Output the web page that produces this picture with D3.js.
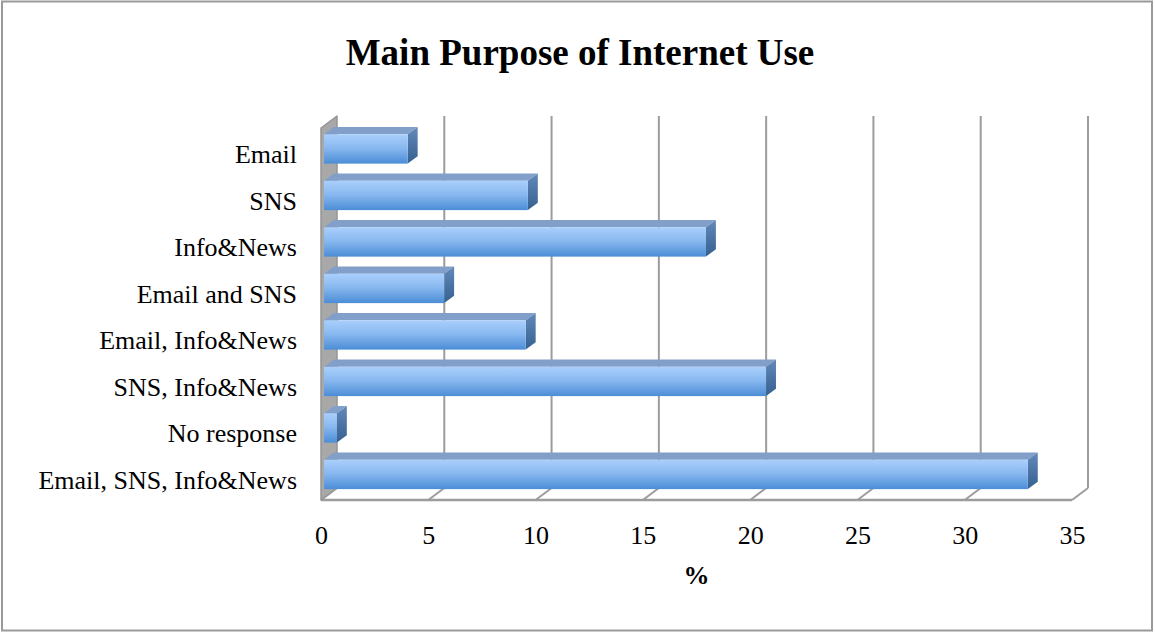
<!DOCTYPE html>
<html>
<head>
<meta charset="utf-8">
<script src="https://cdn.jsdelivr.net/npm/d3@7"></script>
<style>
  html, body { margin: 0; padding: 0; background: #fff; }
  svg { display: block; }
</style>
</head>
<body>
<svg id="chart" width="1155" height="632"></svg>
<script>
// Survey results: main purpose of internet use (%)
const categories = [
  "Email",
  "SNS",
  "Info&News",
  "Email and SNS",
  "Email, Info&News",
  "SNS, Info&News",
  "No response",
  "Email, SNS, Info&News"
];
const values = [3.9, 9.5, 17.8, 5.6, 9.4, 20.6, 0.6, 32.8];
const xTicks = [0, 5, 10, 15, 20, 25, 30, 35];
const titleText = "Main Purpose of Internet Use";
const xAxisTitle = "%";

const svg = d3.select("#chart");

// Front plane of the 3D plot box
const plotLeft = 321, plotRight = 1072, plotTop = 128, plotBottom = 500;
// Offset from the front plane to the back wall
const depthX = 16, depthY = -12;
// Bars sit between these fractions of the depth
const barFront = 0.19, barBack = 0.81;

const x = d3.scaleLinear().domain([0, 35]).range([plotLeft, plotRight]);
const y = d3.scaleBand().domain(categories).range([plotTop, plotBottom])
  .paddingInner(0.37).paddingOuter(0.185);

const serif = "'Liberation Serif', 'Times New Roman', serif";
const gridColor = "#9c9c9c";

// Gradients for the bar faces
const defs = svg.append("defs");
const gFront = defs.append("linearGradient").attr("id", "barFront")
  .attr("x1", 0).attr("y1", 0).attr("x2", 0).attr("y2", 1);
gFront.append("stop").attr("offset", "0%").attr("stop-color", "#a9cffc");
gFront.append("stop").attr("offset", "45%").attr("stop-color", "#8ab9f0");
gFront.append("stop").attr("offset", "100%").attr("stop-color", "#4b8dd6");
const gSide = defs.append("linearGradient").attr("id", "barSide")
  .attr("x1", 0).attr("y1", 0).attr("x2", 0).attr("y2", 1);
gSide.append("stop").attr("offset", "0%").attr("stop-color", "#6289ba");
gSide.append("stop").attr("offset", "100%").attr("stop-color", "#35608f");

// Outer chart border
svg.append("rect")
  .attr("x", 2).attr("y", 1.5).attr("width", 1150).attr("height", 629)
  .attr("fill", "#fff").attr("stroke", "#9a9a9a").attr("stroke-width", 2);

// Title
svg.append("text")
  .attr("x", 580).attr("y", 65)
  .attr("text-anchor", "middle")
  .attr("font-family", serif).attr("font-weight", "bold").attr("font-size", 37)
  .attr("fill", "#000")
  .text(titleText);

// Back wall gridlines
const plot = svg.append("g");
plot.selectAll("line.grid").data(xTicks.slice(1)).join("line")
  .attr("class", "grid")
  .attr("x1", d => x(d) + depthX).attr("x2", d => x(d) + depthX)
  .attr("y1", plotTop + depthY).attr("y2", plotBottom + depthY)
  .attr("stroke", gridColor).attr("stroke-width", 2);

// Floor: diagonal gridlines and front edge
plot.selectAll("line.floor").data(xTicks).join("line")
  .attr("class", "floor")
  .attr("x1", d => x(d)).attr("y1", plotBottom)
  .attr("x2", d => x(d) + depthX).attr("y2", plotBottom + depthY)
  .attr("stroke", gridColor).attr("stroke-width", 2);
plot.append("line")
  .attr("x1", x(0)).attr("x2", x(35)).attr("y1", plotBottom).attr("y2", plotBottom)
  .attr("stroke", gridColor).attr("stroke-width", 2.5);

// Left side wall
plot.append("path")
  .attr("d", d3.line()([
    [x(0), plotTop], [x(0) + depthX, plotTop + depthY],
    [x(0) + depthX, plotBottom + depthY], [x(0), plotBottom]
  ]) + "Z")
  .attr("fill", "#a8a8a8").attr("stroke", "#959595").attr("stroke-width", 1.5)
  .attr("stroke-linejoin", "round");

// Bars
const fdx = depthX * barFront, fdy = depthY * barFront;
const bdx = depthX * barBack, bdy = depthY * barBack;
const bars = plot.selectAll("g.bar").data(categories.map((c, i) => ({ c, v: values[i] })))
  .join("g").attr("class", "bar");

bars.each(function(d) {
  const g = d3.select(this);
  const x0 = x(0), x1 = x(d.v);
  const y0 = y(d.c), y1 = y(d.c) + y.bandwidth();
  // top face
  g.append("path")
    .attr("d", d3.line()([
      [x0 + fdx, y0 + fdy], [x1 + fdx, y0 + fdy],
      [x1 + bdx, y0 + bdy], [x0 + bdx, y0 + bdy]
    ]) + "Z")
    .attr("fill", "#819fc9");
  // right face
  g.append("path")
    .attr("d", d3.line()([
      [x1 + fdx, y0 + fdy], [x1 + bdx, y0 + bdy],
      [x1 + bdx, y1 + bdy], [x1 + fdx, y1 + fdy]
    ]) + "Z")
    .attr("fill", "url(#barSide)");
  // front face
  g.append("rect")
    .attr("x", x0 + fdx).attr("y", y0 + fdy)
    .attr("width", x1 - x0).attr("height", y1 - y0)
    .attr("fill", "url(#barFront)");
});

// Category axis
const yAxis = svg.append("g")
  .attr("transform", `translate(${plotLeft},3.5)`)
  .call(d3.axisLeft(y).tickSize(0).tickPadding(24));
yAxis.select(".domain").remove();
yAxis.selectAll("text")
  .attr("font-family", serif).attr("font-size", 26).attr("fill", "#000");

// Value axis
const xAxis = svg.append("g")
  .attr("transform", `translate(0,${plotBottom})`)
  .call(d3.axisBottom(x).tickValues(xTicks).tickSize(0).tickPadding(25.5));
xAxis.select(".domain").remove();
xAxis.selectAll("text")
  .attr("font-family", serif).attr("font-size", 26).attr("fill", "#000");

// Value axis title
svg.append("text")
  .attr("x", (x(0) + x(35)) / 2).attr("y", 584)
  .attr("text-anchor", "middle")
  .attr("font-family", serif).attr("font-weight", "bold").attr("font-size", 26)
  .attr("fill", "#000")
  .text(xAxisTitle);
</script>
</body>
</html>
